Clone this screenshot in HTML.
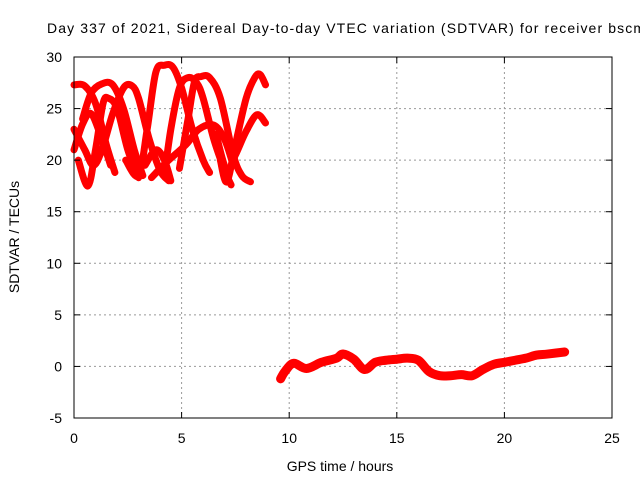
<!DOCTYPE html>
<html><head><meta charset="utf-8"><style>
body{margin:0;background:#fff;overflow:hidden;}
svg{display:block;font-family:"Liberation Sans",sans-serif;}
</style></head><body>
<svg id="chart" width="640" height="480">
<text x="47" y="33" font-size="14" text-anchor="start" textLength="598" lengthAdjust="spacing">Day 337 of 2021, Sidereal Day-to-day VTEC variation (SDTVAR) for receiver bscm</text>
<g id="grid"></g>
<g id="series"></g>
<rect x="74" y="57" width="538" height="361" fill="none" stroke="#000" stroke-width="1"/>
<g id="ticks"></g>
<text x="340" y="471" font-size="14" text-anchor="middle">GPS time / hours</text>
<text transform="translate(19,237) rotate(-90)" font-size="14" text-anchor="middle">SDTVAR / TECUs</text>
</svg>
<script>
const xTicks=[0,5,10,15,20,25];
const yTicks=[-5,0,5,10,15,20,25,30];
const arc1=[[0,27.3],[0.5,27.2],[1,25.5],[1.5,21.5],[1.9,18.8]];
const arc2=[[0.2,20],[0.65,17.5],[1,21],[1.35,25.5],[1.6,26],[2,25],[2.5,21],[3,18.3]];
const arc3=[[0.4,24],[0.8,26.5],[1.3,27.4],[1.8,27.3],[2.3,25],[2.8,21],[3.2,18.5]];
const arc4=[[0,23],[0.5,21],[0.9,19.5],[1.3,21],[1.8,24.5],[2.3,27],[2.7,27.2],[3,26],[3.5,22],[4,19],[4.4,18]];
const arc5=[[0,21],[0.4,23.5],[0.8,24.5],[1.3,22],[1.7,19.5]];
const arc6=[[2.4,20],[3,18.5],[3.4,23],[3.8,28.5],[4.2,29.2],[4.6,29],[5,27],[5.5,23],[6,20],[6.3,18.8]];
const arc7=[[3.3,19.5],[3.8,21],[4.2,20],[4.5,18]];
const arc8=[[4.2,18.5],[4.5,23],[4.9,27],[5.3,28],[5.7,27.5],[6,26],[6.5,22],[7,19],[7.3,17.6]];
const arc9=[[4.9,19.2],[5.3,24],[5.6,27.6],[5.9,28.1],[6.3,28],[6.8,26],[7.4,20.5],[7.8,18.5],[8.2,17.9]];
const arc10=[[3.6,18.3],[4.3,19.8],[5.2,21.5],[5.8,23],[6.5,23.4],[7,22],[7.4,19.5]];
const arc11=[[6.8,20],[7.1,17.9],[7.5,21.5],[8,26],[8.4,28],[8.65,28.3],[8.9,27.3]];
const arc12=[[6.6,22.5],[7.1,19],[7.5,20.5],[8,22.8],[8.5,24.4],[8.9,23.6]];
const lowSeries=[[9.6,-1.2],[9.8,-0.5],[10.2,0.3],[10.8,-0.2],[11.5,0.4],[12.2,0.8],[12.5,1.2],[13,0.7],[13.5,-0.3],[14,0.4],[14.5,0.6],[15,0.7],[15.5,0.8],[16,0.6],[16.5,-0.5],[17,-0.9],[17.5,-0.9],[18,-0.8],[18.5,-0.9],[19,-0.3],[19.5,0.2],[20,0.4],[20.5,0.6],[21,0.8],[21.5,1.1],[22,1.2],[22.8,1.4]];
const arcs=[arc1,arc2,arc3,arc4,arc5,arc6,arc7,arc8,arc9,arc10,arc11,arc12];
const X=v=>74+v*(538/25);
const Y=v=>418-(v+5)*(361/35);
const NS="http://www.w3.org/2000/svg";
const grid=document.getElementById('grid'),ticks=document.getElementById('ticks'),ser=document.getElementById('series');
function mk(tag,attrs,parent){const e=document.createElementNS(NS,tag);for(const k in attrs)e.setAttribute(k,attrs[k]);parent.appendChild(e);return e;}
xTicks.forEach(t=>{
 if(t>0&&t<25){const l=mk('line',{x1:X(t),x2:X(t),y1:57,y2:418,stroke:'#999','stroke-dasharray':'2,3'},grid);
 
 }
 mk('line',{x1:X(t),x2:X(t),y1:418,y2:412,stroke:'#000'},ticks);
 mk('line',{x1:X(t),x2:X(t),y1:57,y2:63,stroke:'#000'},ticks);
 const tx=mk('text',{x:X(t),y:443,'font-size':14,'text-anchor':'middle'},ticks);tx.textContent=t;
 
 
});
yTicks.forEach(t=>{
 if(t>-5&&t<30){const l=mk('line',{x1:74,x2:612,y1:Y(t),y2:Y(t),stroke:'#999','stroke-dasharray':'2,3'},grid);
 
 }
 mk('line',{x1:74,x2:80,y1:Y(t),y2:Y(t),stroke:'#000'},ticks);
 mk('line',{x1:612,x2:606,y1:Y(t),y2:Y(t),stroke:'#000'},ticks);
 const tx=mk('text',{x:62,y:Y(t)+5,'font-size':14,'text-anchor':'end'},ticks);tx.textContent=t;
 
 
});
function smoothPath(pts){
 const P=pts.map(d=>[X(d[0]),Y(d[1])]);
 let d='M'+P[0][0]+','+P[0][1];
 for(let i=0;i<P.length-1;i++){
  const p0=P[i-1]||P[i],p1=P[i],p2=P[i+1],p3=P[i+2]||p2;
  const c1=[p1[0]+(p2[0]-p0[0])/6,p1[1]+(p2[1]-p0[1])/6];
  const c2=[p2[0]-(p3[0]-p1[0])/6,p2[1]-(p3[1]-p1[1])/6];
  d+=' C'+c1[0]+','+c1[1]+' '+c2[0]+','+c2[1]+' '+p2[0]+','+p2[1];
 }
 return d;
}
function draw(pts,w){
 const p=mk('path',{d:smoothPath(pts),fill:'none',stroke:'#f00','stroke-width':w,'stroke-linejoin':'round','stroke-linecap':'round'},ser);
 
 
}
arcs.forEach(a=>draw(a,7));
draw(lowSeries,9);
</script>
</body></html>
